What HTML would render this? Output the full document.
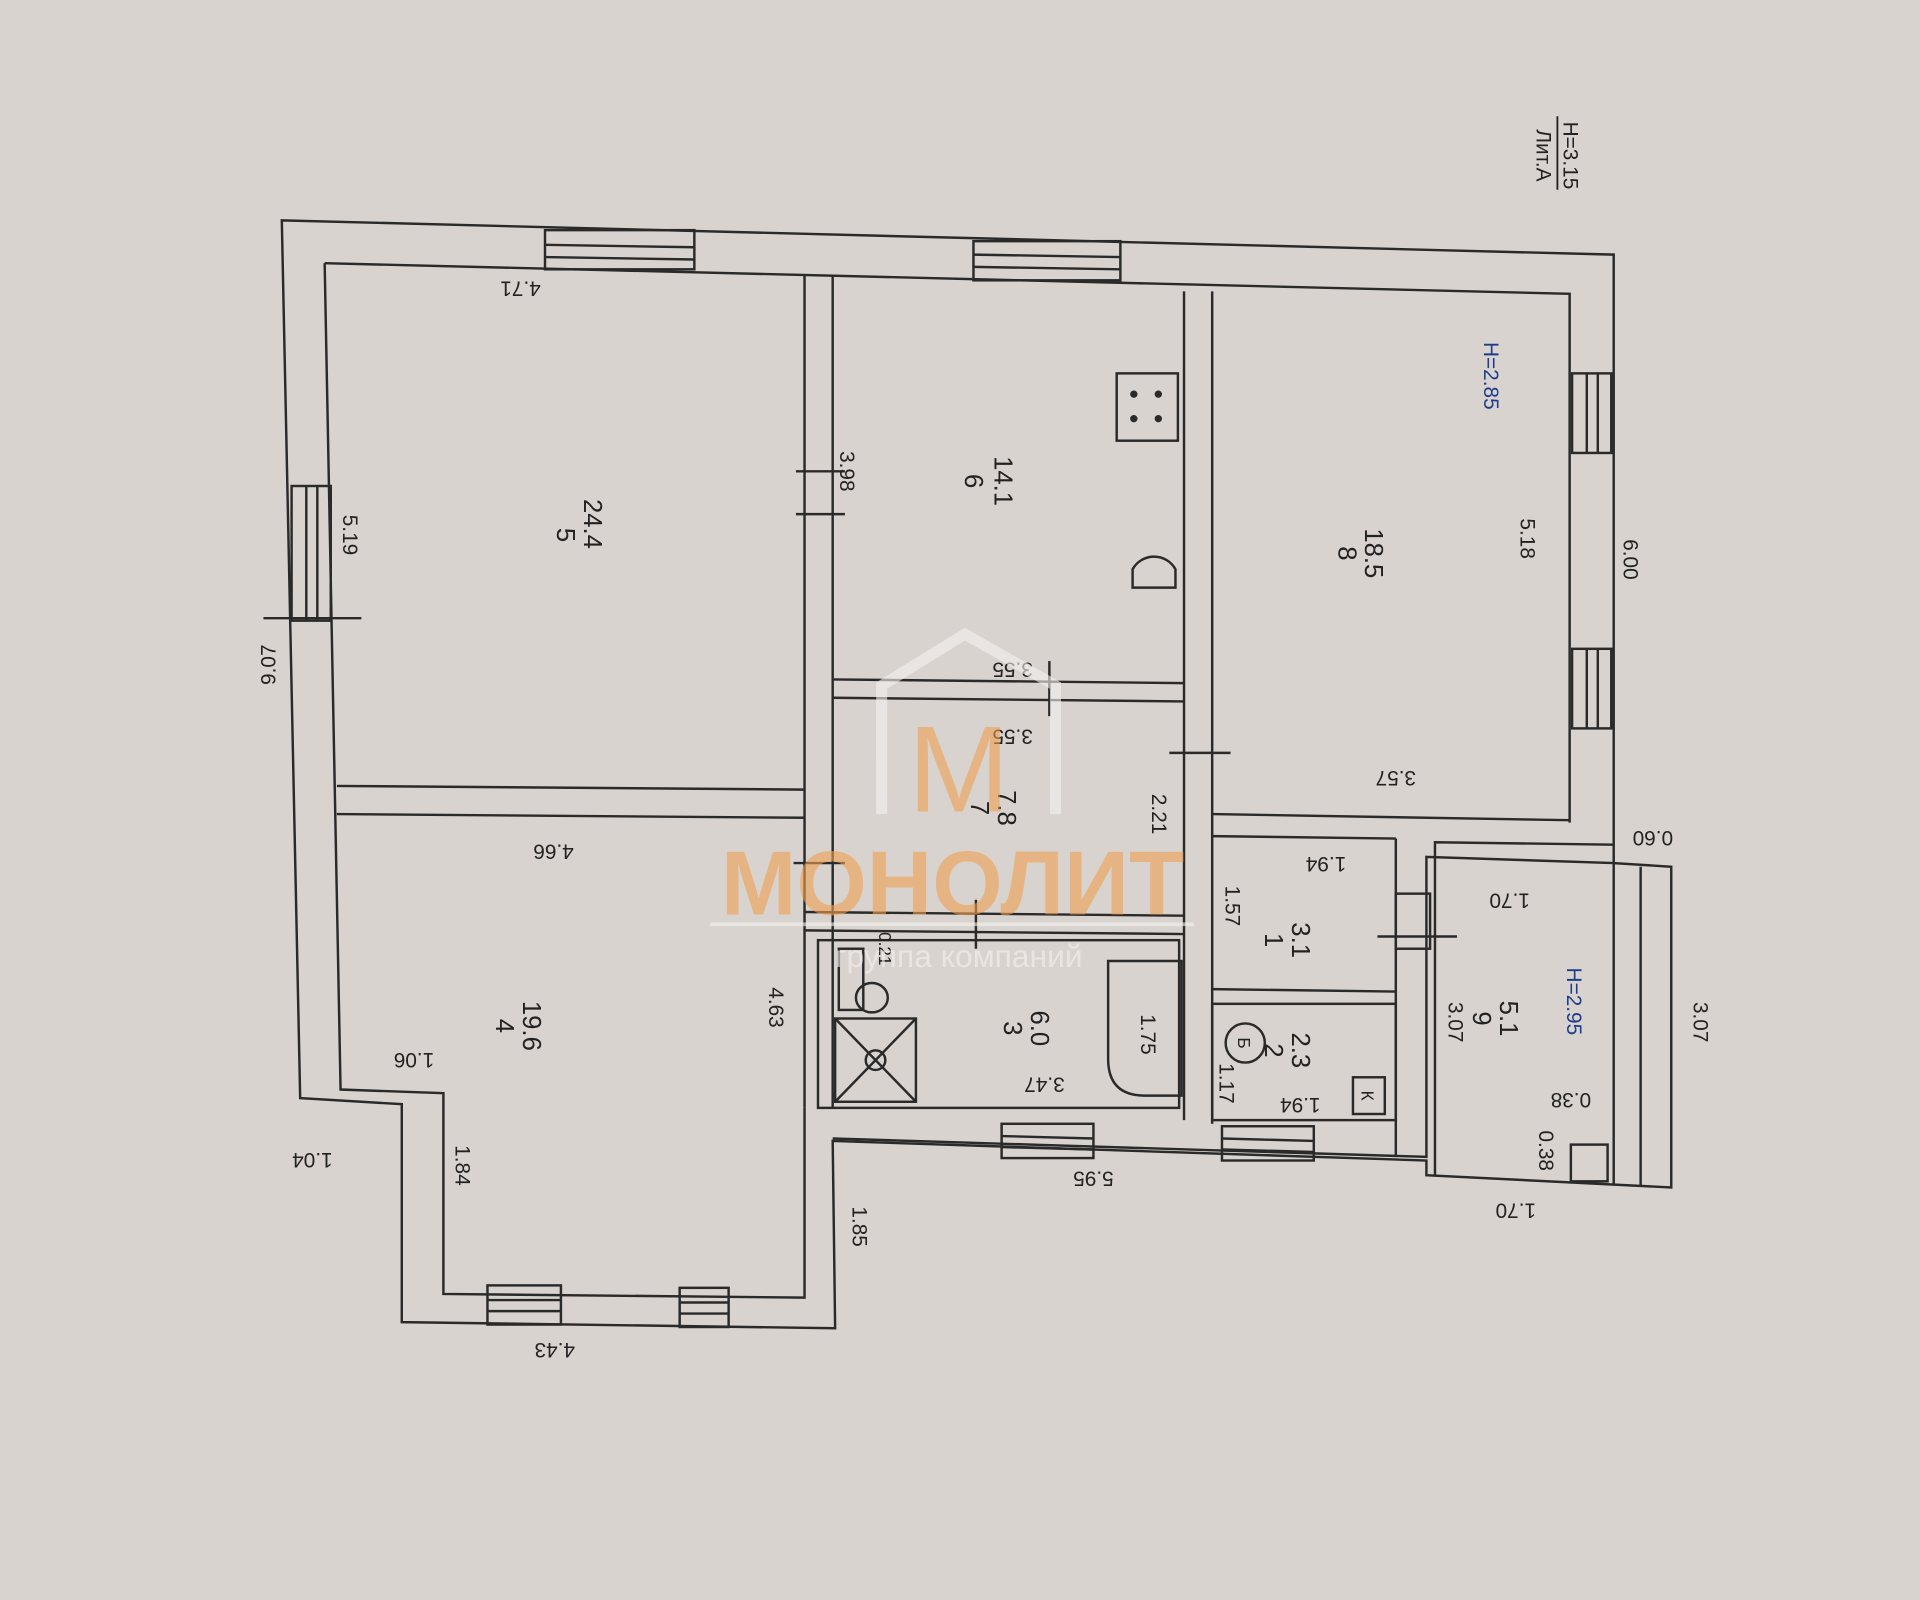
<!DOCTYPE html>
<html><head><meta charset="utf-8"><style>
html,body{margin:0;padding:0;background:#d8d3ce;}
svg{display:block}
text{font-family:"Liberation Sans",sans-serif;fill:#222;font-size:17px}
text.b{font-size:21px}
text.s{font-size:14px}
text.blue{fill:#1b3d8a}
</style></head><body>
<svg width="1920" height="1600" viewBox="0 0 1568 1307" xmlns="http://www.w3.org/2000/svg">
<rect width="1568" height="1307" fill="#d8d3ce"/>
<g fill="none" stroke="#2a2a2a" stroke-width="2">
<polygon points="230,180 1318,208 1318,705 1365,708 1365,970 1165,960 1165,948 680,932 682,1085 328,1080 328,902 245,897"/>
<polyline points="265,215 1282,240 1282,672"/>
<polyline points="265,215 278,890 362,893 362,1057 657,1060 657,905"/>
<polyline points="680,930 1165,945 1165,700 1318,705"/>
<polyline points="1318,690 1172,688 1172,960"/>
<line x1="1318" y1="705" x2="1318" y2="968"/>
<line x1="1340" y1="708" x2="1340" y2="969"/>
<line x1="657" y1="225" x2="657" y2="905"/>
<line x1="680" y1="225" x2="680" y2="905"/>
<line x1="275" y1="642" x2="657" y2="645"/>
<line x1="275" y1="665" x2="657" y2="668"/>
<line x1="967" y1="238" x2="967" y2="915"/>
<line x1="990" y1="238" x2="990" y2="918"/>
<line x1="680" y1="555" x2="967" y2="558"/>
<line x1="680" y1="570" x2="967" y2="573"/>
<line x1="657" y1="745" x2="967" y2="748"/>
<line x1="657" y1="760" x2="967" y2="763"/>
<rect x="668" y="768" width="295" height="137"/>
<line x1="990" y1="665" x2="1282" y2="670"/>
<line x1="990" y1="683" x2="1140" y2="685"/>
<line x1="1140" y1="685" x2="1140" y2="945"/>
<rect x="990" y="820" width="150" height="95"/>
<line x1="990" y1="808" x2="1140" y2="810"/>
<rect x="445" y="188" width="122" height="32"/><line x1="445" y1="200" x2="567" y2="202"/><line x1="445" y1="210" x2="567" y2="212"/>
<rect x="795" y="197" width="120" height="32"/><line x1="795" y1="208" x2="915" y2="210"/><line x1="795" y1="218" x2="915" y2="220"/>
<rect x="238" y="397" width="32" height="110"/><line x1="250" y1="397" x2="250" y2="507"/><line x1="259" y1="397" x2="259" y2="507"/>
<rect x="1284" y="305" width="32" height="65"/><line x1="1296" y1="305" x2="1296" y2="370"/><line x1="1305" y1="305" x2="1305" y2="370"/>
<rect x="1284" y="530" width="32" height="65"/><line x1="1296" y1="530" x2="1296" y2="595"/><line x1="1305" y1="530" x2="1305" y2="595"/>
<rect x="398" y="1050" width="60" height="32"/><line x1="398" y1="1062" x2="458" y2="1062"/><line x1="398" y1="1071" x2="458" y2="1071"/>
<rect x="555" y="1052" width="40" height="32"/><line x1="555" y1="1064" x2="595" y2="1064"/><line x1="555" y1="1073" x2="595" y2="1073"/>
<rect x="818" y="918" width="75" height="28"/><line x1="818" y1="928" x2="893" y2="930"/><line x1="818" y1="937" x2="893" y2="939"/>
<rect x="998" y="920" width="75" height="28"/><line x1="998" y1="930" x2="1073" y2="932"/><line x1="998" y1="939" x2="1073" y2="941"/>
<rect x="1140" y="730" width="28" height="45"/>
<line x1="650" y1="385" x2="690" y2="385"/><line x1="650" y1="420" x2="690" y2="420"/>
<line x1="215" y1="505" x2="295" y2="505"/><line x1="857" y1="540" x2="857" y2="585"/>
<line x1="955" y1="615" x2="1005" y2="615"/><line x1="797" y1="735" x2="797" y2="775"/>
<line x1="1125" y1="765" x2="1190" y2="765"/><line x1="648" y1="705" x2="690" y2="705"/>
<rect x="912" y="305" width="50" height="55"/>
<path d="M925,480 L925,465 A20,20 0 0 1 960,465 L960,480 Z"/>
<path d="M905,840 L905,785 L965,785 L965,895 L935,895 Q905,895 905,865 Z"/>
<rect x="682" y="832" width="66" height="68"/><line x1="682" y1="832" x2="748" y2="900"/><line x1="748" y1="832" x2="682" y2="900"/>
<circle cx="715" cy="866" r="8"/>
<rect x="685" y="775" width="20" height="50"/><ellipse cx="712" cy="815" rx="13" ry="12"/>
<circle cx="1017" cy="852" r="16"/>
<rect x="1105" y="880" width="26" height="30"/>
<rect x="1283" y="935" width="30" height="30"/>
</g>
<g fill="#2a2a2a">
<circle cx="926" cy="322" r="3"/><circle cx="946" cy="322" r="3"/><circle cx="926" cy="342" r="3"/><circle cx="946" cy="342" r="3"/>
</g>
<g text-anchor="middle">
<text transform="translate(425,230) rotate(180)">4.71</text>
<text transform="translate(280,437) rotate(90)">5.19</text>
<text transform="translate(225,543) rotate(-90)">9.07</text>
<text class="b" transform="translate(455,437) rotate(90)">5</text>
<text class="b" transform="translate(477,428) rotate(90)">24.4</text>
<text transform="translate(686,385) rotate(90)">3.98</text>
<text class="b" transform="translate(788,393) rotate(90)">6</text>
<text class="b" transform="translate(812,393) rotate(90)">14.1</text>
<text class="blue" transform="translate(1212,307) rotate(90)">H=2.85</text>
<text class="b" transform="translate(1093,452) rotate(90)">8</text>
<text class="b" transform="translate(1115,452) rotate(90)">18.5</text>
<text transform="translate(1242,440) rotate(90)">5.18</text>
<text transform="translate(1326,457) rotate(90)">6.00</text>
<text transform="translate(827,541) rotate(180)">3.55</text>
<text transform="translate(827,596) rotate(180)">3.55</text>
<text class="b" transform="translate(793,660) rotate(90)">7</text>
<text class="b" transform="translate(815,660) rotate(90)">7.8</text>
<text transform="translate(941,665) rotate(90)">2.21</text>
<text transform="translate(1140,630) rotate(180)">3.57</text>
<text transform="translate(1350,679) rotate(180)">0.60</text>
<text transform="translate(452,690) rotate(180)">4.66</text>
<text transform="translate(1083,700) rotate(180)">1.94</text>
<text transform="translate(1001,740) rotate(90)">1.57</text>
<text class="b" transform="translate(1033,768) rotate(90)">1</text>
<text class="b" transform="translate(1055,768) rotate(90)">3.1</text>
<text transform="translate(1233,730) rotate(180)">1.70</text>
<text class="b" transform="translate(1203,832) rotate(90)">9</text>
<text class="b" transform="translate(1225,832) rotate(90)">5.1</text>
<text class="blue" transform="translate(1280,818) rotate(90)">H=2.95</text>
<text transform="translate(1183,835) rotate(90)">3.07</text>
<text transform="translate(1383,835) rotate(90)">3.07</text>
<text transform="translate(628,823) rotate(90)">4.63</text>
<text class="s" transform="translate(718,775) rotate(90)">0.21</text>
<text class="b" transform="translate(405,838) rotate(90)">4</text>
<text class="b" transform="translate(427,838) rotate(90)">19.6</text>
<text transform="translate(338,860) rotate(180)">1.06</text>
<text class="b" transform="translate(820,840) rotate(90)">3</text>
<text class="b" transform="translate(842,840) rotate(90)">6.0</text>
<text transform="translate(932,845) rotate(90)">1.75</text>
<text transform="translate(853,880) rotate(180)">3.47</text>
<text class="b" transform="translate(1033,858) rotate(90)">2</text>
<text class="b" transform="translate(1055,858) rotate(90)">2.3</text>
<text class="s" transform="translate(1011,852) rotate(90)">Б</text>
<text class="s" transform="translate(1112,895) rotate(90)">К</text>
<text transform="translate(996,885) rotate(90)">1.17</text>
<text transform="translate(1062,897) rotate(180)">1.94</text>
<text transform="translate(1283,893) rotate(180)">0.38</text>
<text transform="translate(1257,940) rotate(90)">0.38</text>
<text transform="translate(1238,983) rotate(180)">1.70</text>
<text transform="translate(255,942) rotate(180)">1.04</text>
<text transform="translate(372,952) rotate(90)">1.84</text>
<text transform="translate(696,1002) rotate(90)">1.85</text>
<text transform="translate(893,957) rotate(180)">5.95</text>
<text transform="translate(453,1097) rotate(180)">4.43</text>
<text transform="translate(1255,127) rotate(90)">Лит.А</text>
<text transform="translate(1277,127) rotate(90)">H=3.15</text>
</g>
<line x1="1272" y1="95" x2="1272" y2="155" stroke="#222" stroke-width="1.5"/>
<g opacity="0.6">
<polyline points="720,665 720,560 788,518 862,560 862,665" fill="none" stroke="#f4f2f0" stroke-width="9"/>
<text x="783" y="663" text-anchor="middle" style="font-size:100px;fill:#f0a050">М</text>
<text x="778" y="747" text-anchor="middle" style="font-size:74px;fill:#f0a050;font-weight:bold">МОНОЛИТ</text>
<line x1="580" y1="755" x2="975" y2="755" stroke="#f4f2f0" stroke-width="3"/>
<text x="783" y="790" text-anchor="middle" style="font-size:26px;fill:#f4f2f0">группа компаний</text>
</g>
</svg>
</body></html>
